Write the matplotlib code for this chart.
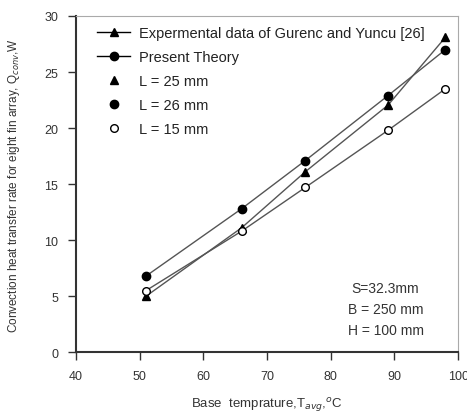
import matplotlib.pyplot as plt
from matplotlib.lines import Line2D

plt.rcParams['font.family'] = ['Liberation Sans', 'DejaVu Sans']

# base temperature, deg C
temps = [51, 66, 76, 89, 98]
# convection heat transfer rate, W
experimental = [5.0, 11.1, 16.1, 22.05, 28.1]   # L = 25 mm
theory = [6.8, 12.8, 17.1, 22.9, 27.0]          # L = 26 mm
short_fin = [5.5, 10.8, 14.7, 19.8, 23.5]       # L = 15 mm

legend_labels = [
    "Expermental data of Gurenc and Yuncu [26]",
    "Present Theory",
    "L = 25 mm",
    "L = 26 mm",
    "L = 15 mm",
]
notes = ["S=32.3mm", "B = 250 mm", "H = 100 mm"]

fig = plt.figure(figsize=(4.67, 4.14), dpi=100)
ax = fig.add_axes([0.163, 0.147, 0.818, 0.812])

line_color = "#555555"
ax.plot(temps, experimental, color=line_color, lw=1.0, zorder=2)
ax.plot(temps, theory, color=line_color, lw=1.0, zorder=2)
ax.plot(temps, short_fin, color=line_color, lw=1.0, zorder=2)
ax.plot(temps, experimental, ls="none", marker="^", ms=6, color="black", zorder=3)
ax.plot(temps, theory, ls="none", marker="o", ms=6, color="black", zorder=3)
ax.plot(temps, short_fin, ls="none", marker="o", ms=5.5, mfc="white",
        mec="black", mew=1.0, zorder=3)

handles = [
    Line2D([], [], color="black", lw=1.0, marker="^", ms=6),
    Line2D([], [], color="black", lw=1.0, marker="o", ms=6),
    Line2D([], [], ls="none", color="black", marker="^", ms=6),
    Line2D([], [], ls="none", color="black", marker="o", ms=6),
    Line2D([], [], ls="none", marker="o", ms=5.5, mfc="white", mec="black"),
]
ax.legend(handles, legend_labels, loc="upper left", frameon=False,
          fontsize=10.5, handlelength=2.3, handletextpad=0.6, labelspacing=0.68,
          bbox_to_anchor=(0.02, 1.008), labelcolor="#222222")

for i, note in enumerate(notes):
    ax.text(0.81, 0.19 - i * 0.062, note, transform=ax.transAxes,
            ha="center", va="center", fontsize=10, color="#333333")

ax.set_xlim(40, 100)
ax.set_ylim(0, 30)
ax.set_xticks(range(40, 101, 10))
ax.set_yticks(range(0, 31, 5))
ax.tick_params(direction="out", length=6, width=1, pad=7, labelsize=9,
               colors="#333333")
for side in ["top", "right"]:
    ax.spines[side].set_color("#aaaaaa")
for side in ["left", "bottom"]:
    ax.spines[side].set_linewidth(1.5)
    ax.spines[side].set_color("#333333")

ax.set_xlabel("Base  temprature,T$_{avg}$,$^{o}$C", fontsize=9.5,
              labelpad=9, color="#333333")
ax.set_ylabel("Convection heat transfer rate for eight fin array, Q$_{conv}$,W",
              fontsize=8.5, labelpad=16, color="#333333")

plt.savefig("out.png", dpi=100)
